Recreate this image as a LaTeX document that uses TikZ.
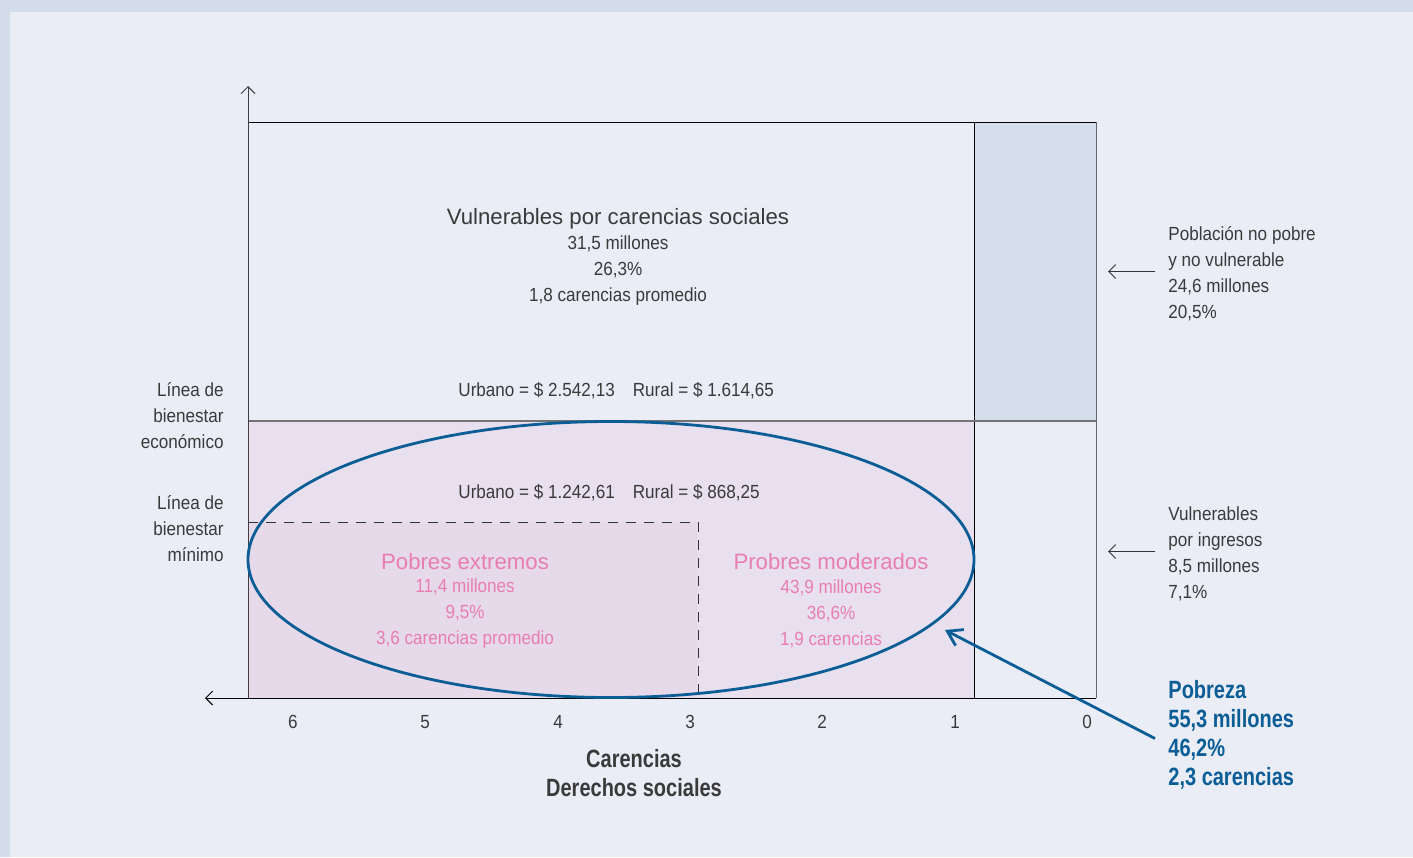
\documentclass[tikz,border=0pt]{standalone}
\usepackage{fontspec}
\setmainfont{Liberation Sans}
\newfontfamily\condfont[FakeStretch=0.9]{Liberation Sans}
\newfontfamily\condbfont[FakeStretch=0.8]{Liberation Sans Bold}
\usetikzlibrary{arrows.meta,shapes.geometric}

\definecolor{bgouter}{HTML}{D3DCEA}
\definecolor{bginner}{HTML}{EAEDF6}
\definecolor{pinkfill}{HTML}{E8E0EE}
\definecolor{pinkdeep}{HTML}{E6D9E9}
\definecolor{bluefill}{HTML}{D5DFEB}
\definecolor{pobblue}{HTML}{0B5D96}
\definecolor{pinktext}{HTML}{E87DB3}
\definecolor{graytext}{HTML}{3A3A3A}

\tikzset{
  txt/.style={font=\condfont\fontsize{9.5}{13}\selectfont, text=graytext, inner sep=0pt, align=center},
  heading/.style={font=\fontsize{11.1}{13}\selectfont, inner sep=0pt},
  boldtxt/.style={font=\condbfont\fontsize{12.5}{14.5}\selectfont, inner sep=0pt},
  thinline/.style={line width=0.5pt},
  axisarrow/.style={-{Straight Barb[length=3.5pt,width=7pt]}, line width=0.5pt},
}

\begin{document}
\begin{tikzpicture}[x=0.5pt,y=-0.5pt]
  % background
  \useasboundingbox (0,0) rectangle (1413,857);
  \fill[bgouter] (0,0) rectangle (1413,857);
  \fill[bginner] (10,12) rectangle (1413,857);

  % regions
  \fill[pinkfill] (248,421) rectangle (974,698);
  \fill[pinkdeep] (248,522) rectangle (698,698);
  \fill[bluefill] (974,122) rectangle (1096,421);

  % frame
  \draw[thinline, black] (248,122) -- (1096,122);
  \draw[thinline, black!60] (1096,122) -- (1096,698);
  \draw[thinline, black] (974,122) -- (974,698);
  \draw[line width=0.9pt, black!55] (248,421) -- (1096,421);
  \draw[thinline, black!80, dash pattern=on 5pt off 4pt] (248,522) -- (698,522) -- (698,698);

  % axes
  \draw[axisarrow, black!75] (248,698) -- (248,86);
  \draw[axisarrow, black] (1096,698) -- (205,698);

  % poverty ellipse
  \node[ellipse, draw=pobblue, line width=1.4pt, minimum width=363pt, minimum height=138pt, inner sep=0pt] (pobreza) at (611,559.5) {};

  % upper block
  \node[heading, text=graytext] (vulcar) at (618,219) {Vulnerables por carencias sociales};
  \node[txt] (vulcardat) at (618,270.5) {31,5 millones\\26,3\%\\1,8 carencias promedio};
  \node[txt, anchor=west] (lineaeco) at (458,391) {Urbano = \$ 2.542,13\hspace{9pt}Rural = \$ 1.614,65};
  \node[txt, anchor=west] (lineamin) at (458,493) {Urbano = \$ 1.242,61\hspace{9pt}Rural = \$ 868,25};

  % poor blocks
  \node[heading, text=pinktext] (extremos) at (465,562) {Pobres extremos};
  \node[txt, text=pinktext] (extremosdat) at (465,614) {11,4 millones\\9,5\%\\3,6 carencias promedio};
  \node[heading, text=pinktext] (moderados) at (831,562) {Probres moderados};
  \node[txt, text=pinktext] (moderadosdat) at (831,614) {43,9 millones\\36,6\%\\1,9 carencias};

  % left labels
  \node[txt, align=right, anchor=east] (bieneco) at (224,416) {Línea de\\bienestar\\económico};
  \node[txt, align=right, anchor=east] (bienmin) at (224,529) {Línea de\\bienestar\\mínimo};

  % right labels
  \node[txt, align=left, anchor=west] (novul) at (1168,273.5) {Población no pobre\\y no vulnerable\\24,6 millones\\20,5\%};
  \node[txt, align=left, anchor=west] (vulingr) at (1168,553.5) {Vulnerables\\por ingresos\\8,5 millones\\7,1\%};
  \draw[axisarrow, black!80] ([xshift=-6.5pt,yshift=1pt]novul.west) -- ([xshift=-30pt,yshift=1pt]novul.west);
  \draw[axisarrow, black!80] ([xshift=-6.5pt,yshift=1pt]vulingr.west) -- ([xshift=-30pt,yshift=1pt]vulingr.west);

  % poverty total
  \node[boldtxt, text=pobblue, align=left, anchor=west] (pobtxt) at (1168,734.5) {Pobreza\\55,3 millones\\46,2\%\\2,3 carencias};
  \coordinate (pobtip) at (945,630);
  \draw[-{Straight Barb[length=7pt,width=9pt]}, line width=1.4pt, pobblue] ([xshift=-6.5pt,yshift=-2pt]pobtxt.west) -- (pobtip);

  % x axis ticks
  \foreach \n/\x in {6/293,5/425,4/558,3/690,2/822,1/955,0/1087}
    \node[txt] (tick\n) at (\x,722) {\n};
  \node[boldtxt, text=graytext, align=center] (xtitle) at (634,773.5) {Carencias\\Derechos sociales};
\end{tikzpicture}
\end{document}
